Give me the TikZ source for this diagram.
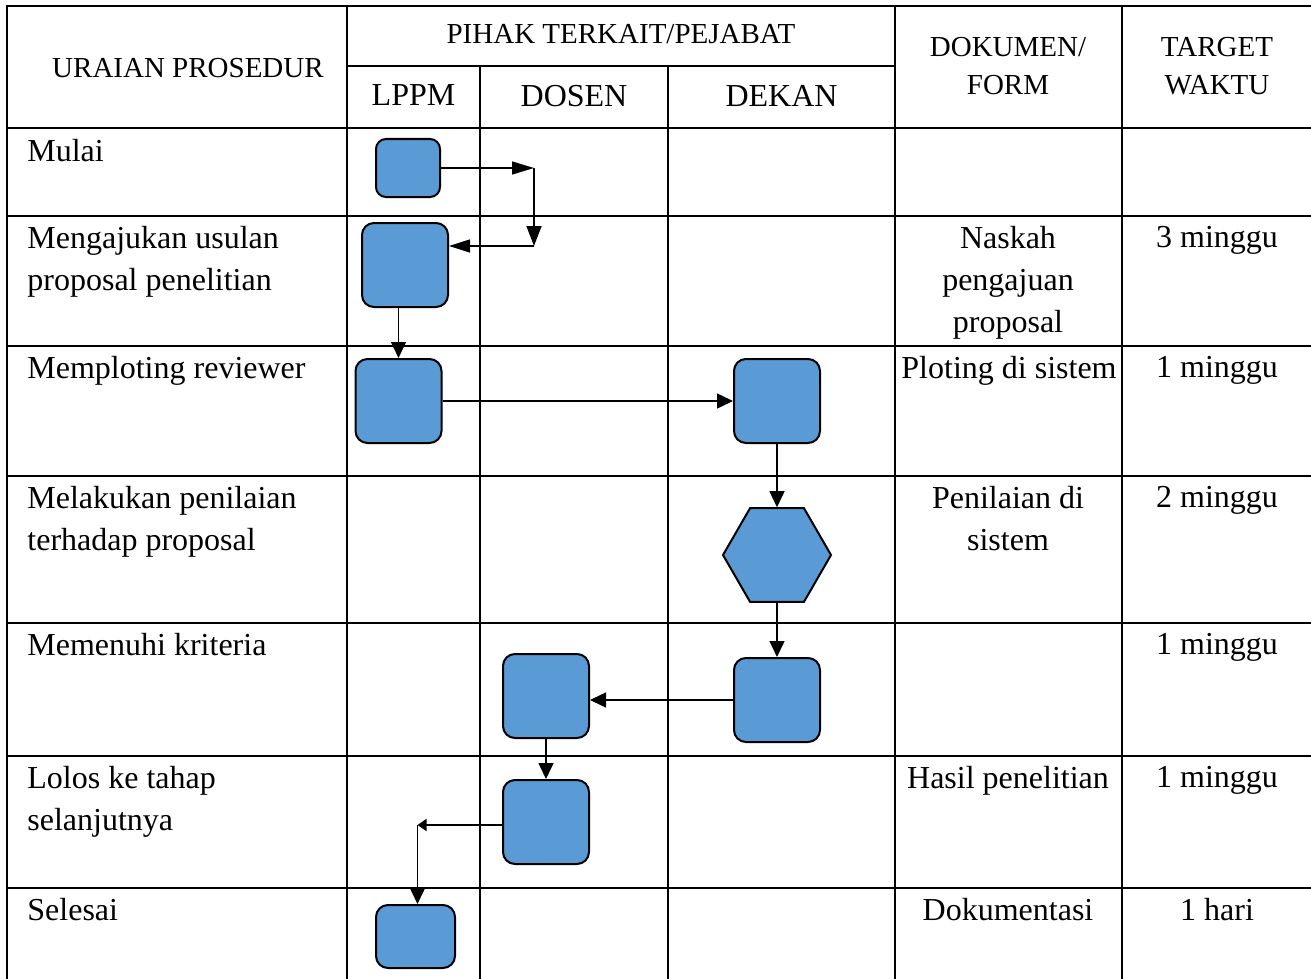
\documentclass[tikz,border=0pt]{standalone}
\usepackage{fontspec}
\setmainfont{Liberation Serif}
\usepackage{xcolor}
\usepackage{tikz}
\usetikzlibrary{shapes.geometric}
\usetikzlibrary{arrows.meta}
\definecolor{boxblue}{HTML}{5B9BD5}

\begin{document}
\begin{tikzpicture}[x=0.5pt,y=-0.5pt]
\useasboundingbox (0,0) rectangle (1311,979);

% table
\begin{scope}[line width=1.15pt]
    \draw (7,979) -- (7,6) -- (1311,6);
    \draw (347,66) -- (895,66);
    \foreach \y in {128,216,346,476,623,756,888}
        \draw (7,\y) -- (1311,\y);
    \foreach \x in {347,895,1122}
        \draw (\x,6) -- (\x,979);
    \foreach \x in {480,668}
        \draw (\x,66) -- (\x,979);
    \end{scope}

% header
\begin{scope}[every node/.style={anchor=north,inner sep=0pt,align=center,
              font=\fontsize{14.5}{19}\selectfont}]
    \node (H1) at (188,57.5) {URAIAN PROSEDUR};
    \node (H2) at (621,24) {PIHAK TERKAIT/PEJABAT};
    \node (H3) at (1008,37) {DOKUMEN/\\FORM};
    \node (H4) at (1217,37) {TARGET\\WAKTU};
    \end{scope}

\begin{scope}[every node/.style={inner sep=0pt,font=\fontsize{16}{21}\selectfont}]
    \node[anchor=north] (L1) at (413.5,84.6) {LPPM};
    \node[anchor=north] (L2) at (574,84.6) {DOSEN};
    \node[anchor=north] (L3) at (781.5,84.6) {DEKAN};

    \node[anchor=north west,align=left] (U1) at (27,139) {Mulai};
    \node[anchor=north west,align=left] (U2) at (27,226) {Mengajukan usulan\\proposal penelitian};
    \node[anchor=north west,align=left] (U3) at (27,356) {Memploting reviewer};
    \node[anchor=north west,align=left] (U4) at (27,486) {Melakukan penilaian\\terhadap proposal};
    \node[anchor=north west,align=left] (U5) at (27,633) {Memenuhi kriteria};
    \node[anchor=north west,align=left] (U6) at (27,766) {Lolos ke tahap\\selanjutnya};
    \node[anchor=north west,align=left] (U7) at (27,898) {Selesai};

    \node[anchor=north,align=center] (D2) at (1008,226) {Naskah\\pengajuan\\proposal};
    \node[anchor=north,align=center] (D3) at (1009,356) {Ploting di sistem};
    \node[anchor=north,align=center] (D4) at (1008,486) {Penilaian di\\sistem};
    \node[anchor=north,align=center] (D6) at (1008,766) {Hasil penelitian};
    \node[anchor=north,align=center] (D7) at (1008,898) {Dokumentasi};

    \node[anchor=north] (W2) at (1217,226) {3 minggu};
    \node[anchor=north] (W3) at (1217,356) {1 minggu};
    \node[anchor=north] (W4) at (1217,486) {2 minggu};
    \node[anchor=north] (W5) at (1217,633) {1 minggu};
    \node[anchor=north] (W6) at (1217,766) {1 minggu};
    \node[anchor=north] (W7) at (1217,898) {1 hari};
    \end{scope}

% flow
\begin{scope}[every node/.style={draw=black,line width=1pt,fill=boxblue,inner sep=0pt,
              rectangle,rounded corners=6pt,minimum width=43pt,minimum height=42pt}]
    \node[rounded corners=5pt,minimum width=32pt,minimum height=29pt] (A) at (408,168) {};
    \node (B) at (405,265) {};
    \node (C) at (398.5,401) {};
    \node (D) at (777,401) {};
    \node[regular polygon,regular polygon sides=6,rounded corners=0pt,
          minimum width=0pt,minimum height=0pt,minimum size=54pt] (E) at (777,555) {};
    \node (F) at (777,700) {};
    \node (G) at (546,696) {};
    \node (H) at (546,822) {};
    \node[minimum width=39.5pt,minimum height=31.5pt] (I) at (415.5,936.5) {};
    \end{scope}

\begin{scope}[>={Triangle[length=8pt,width=7.5pt]},
              every edge/.style={draw=black,line width=0.75pt}]
    \coordinate (P1) at (534,168);
    \coordinate (P2) at (534,246);
    \coordinate (P3) at (417.5,825);
    \path [-{Triangle[length=11pt,width=6.5pt]}] (A.east) edge (P1);
    \path [-{Triangle[length=10pt,width=7.5pt]}] (P1) edge (P2);
    \path [-{Triangle[length=10.5pt,width=6.5pt]}] (P2) edge (P2 -| B.east);
    \path [->] (C.north |- B.south) edge (C.north);
    \path [->] (C) edge (D);
    \path [->] (D) edge (E);
    \path [->] (E) edge (F);
    \path [->] (F.west) edge (F.west -| G.east);
    \path [->] (G) edge (H);
    \path [-{Triangle[length=4.5pt,width=6pt]}] (P3 -| H.west) edge (P3);
    \path [->] (P3) edge (P3 |- I.north);
    \end{scope}

\end{tikzpicture}
\end{document}
